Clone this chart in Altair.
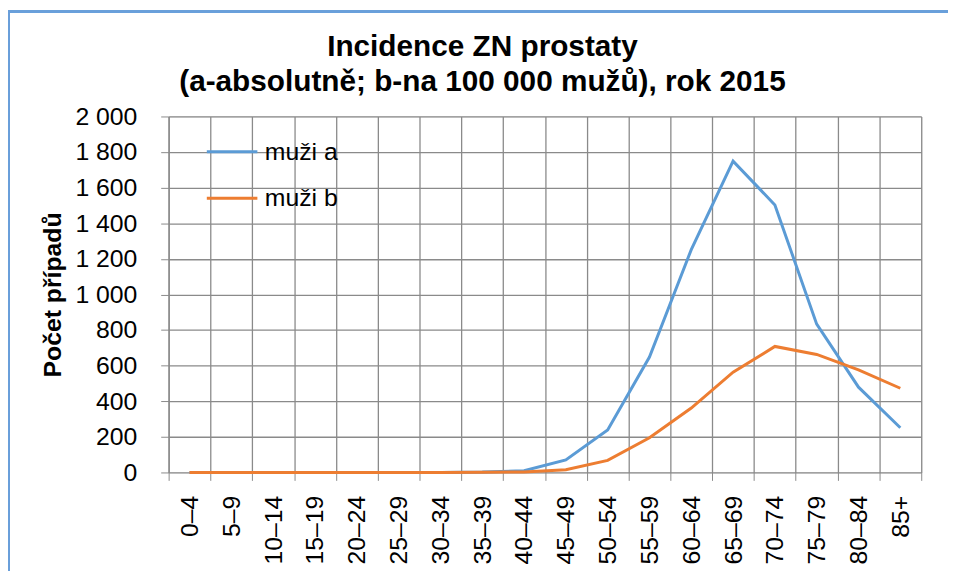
import altair as alt
import pandas as pd

categories = ["0–4", "5–9", "10–14", "15–19", "20–24", "25–29", "30–34", "35–39",
              "40–44", "45–49", "50–54", "55–59", "60–64", "65–69", "70–74", "75–79",
              "80–84", "85+"]
muzi_a = [0, 0, 0, 0, 0, 0, 0, 2, 10, 70, 238, 648, 1252, 1749, 1503, 833, 479, 251]
muzi_b = [0, 0, 0, 0, 0, 0, 0, 1, 3, 15, 68, 195, 362, 563, 708, 663, 576, 473]
series_names = ["muži a", "muži b"]
series_colors = ["#5B9BD5", "#ED7D31"]
y_ticks = list(range(0, 2001, 200))

rows = []
for name, vals in zip(series_names, [muzi_a, muzi_b]):
    for c, v in zip(categories, vals):
        rows.append({"věk": c, "série": name, "počet": v})
df = pd.DataFrame(rows)

FONT = "Liberation Sans"
GRID = "#8a8a8a"
FRAME = "#6A9FDA"

lines = alt.Chart(df).mark_line(strokeWidth=3).encode(
    x=alt.X("věk:N", sort=categories, bandPosition=0.5,
            scale=alt.Scale(type="band", paddingInner=0, paddingOuter=0),
            axis=alt.Axis(title=None, labelAngle=-90, labelAlign="right",
                          labelBaseline="middle", labelPadding=15, labelFontSize=25,
                          labelFont=FONT, labelColor="#000000",
                          tickBand="extent", tickSize=8, tickColor=GRID,
                          domain=False, grid=True, gridColor=GRID, gridWidth=1.3,
                          gridOpacity=1)),
    y=alt.Y("počet:Q", scale=alt.Scale(domain=[0, 2000], nice=False),
            axis=alt.Axis(title="Počet případů", values=y_ticks,
                          labelExpr="replace(format(datum.value, ','), ',', ' ')",
                          labelFontSize=25, labelFont=FONT, labelColor="#000000",
                          labelPadding=24, tickSize=8, tickColor=GRID,
                          domain=True, domainColor=GRID, domainWidth=1.3,
                          grid=True, gridColor=GRID, gridWidth=1.3, gridOpacity=1,
                          titleFont=FONT, titleFontSize=25, titleFontWeight="bold",
                          titleColor="#000000", titlePadding=9)),
    color=alt.Color("série:N", scale=alt.Scale(domain=series_names, range=series_colors),
                    legend=alt.Legend(title=None, orient="none", legendX=37, legendY=12,
                                      symbolType="stroke", symbolSize=2600,
                                      symbolStrokeWidth=3, clipHeight=47, rowPadding=0,
                                      labelFont=FONT, labelFontSize=25,
                                      labelColor="#000000", labelOffset=6, padding=0)),
)

# decorative frame along the top and left edge of the picture
frame_top = alt.Chart(df).mark_rule(color=FRAME, strokeWidth=2).encode(
    x=alt.value(-162), x2=alt.value(786), y=alt.value(-106))
frame_left = alt.Chart(df).mark_rule(color=FRAME, strokeWidth=2).encode(
    x=alt.value(-161), y=alt.value(-107), y2=alt.value(460))

chart = alt.layer(lines, frame_top, frame_left).properties(
    width=759,
    height=359,
    title=alt.Title(["Incidence ZN prostaty", "(a-absolutně; b-na 100 000 mužů), rok 2015"],
                    font=FONT, fontSize=30, fontWeight="bold", color="#000000",
                    anchor="middle", dx=-63, offset=-88, lineHeight=35),
    autosize=alt.AutoSizeParams(type="none"),
    padding={"left": 162, "top": 107, "right": 27, "bottom": 97},
).configure_view(stroke=None).configure(background="#ffffff")

chart.save("out.html", embed_options={"renderer": "svg", "actions": False})
